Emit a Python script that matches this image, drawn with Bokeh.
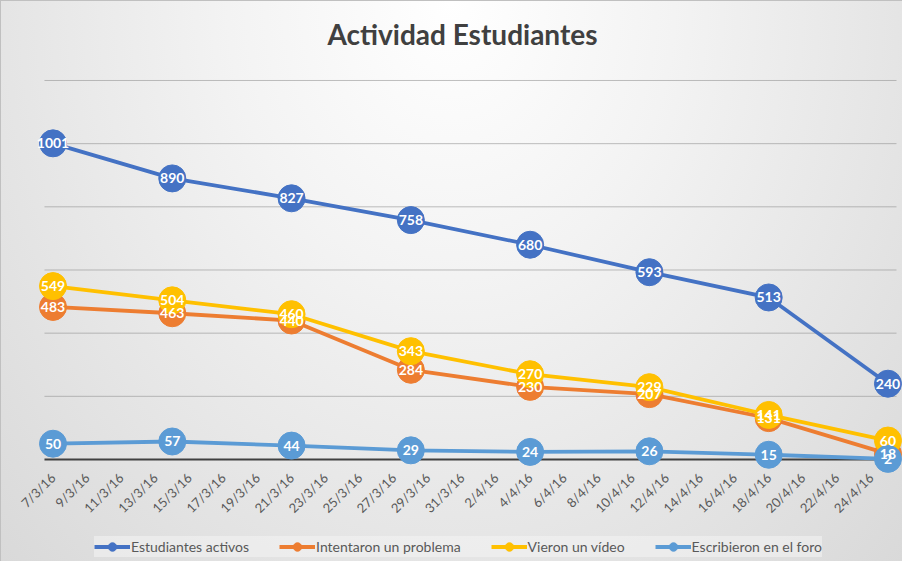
import math
import pandas as pd
from bokeh.plotting import figure
from bokeh.models import ColumnDataSource, Range1d, Legend, LegendItem
from bokeh.core.properties import value
from bokeh.embed import file_html
from bokeh.resources import INLINE

# ---- data ----
dates = ["7/3/16", "14/3/16", "21/3/16", "28/3/16", "4/4/16", "11/4/16", "18/4/16", "25/4/16"]
activos = [1001, 890, 827, 758, 680, 593, 513, 240]
problema = [483, 463, 440, 284, 230, 207, 131, 18]
video = [549, 504, 460, 343, 270, 229, 141, 60]
foro = [50, 57, 44, 29, 24, 26, 15, 2]
series_names = ["Estudiantes activos", "Intentaron un problema", "Vieron un vídeo", "Escribieron en el foro"]
series_colors = ["#4472C4", "#ED7D31", "#FFC000", "#5B9BD5"]
tick_labels = ["7/3/16", "9/3/16", "11/3/16", "13/3/16", "15/3/16", "17/3/16", "19/3/16",
               "21/3/16", "23/3/16", "25/3/16", "27/3/16", "29/3/16", "31/3/16", "2/4/16",
               "4/4/16", "6/4/16", "8/4/16", "10/4/16", "12/4/16", "14/4/16", "16/4/16",
               "18/4/16", "20/4/16", "22/4/16", "24/4/16"]
y_grid = [200, 400, 600, 800, 1000, 1200]
y_zero = [0]
title_text = "Actividad Estudiantes"

FONT = "Lato"
origin = pd.to_datetime(dates[0], format="%d/%m/%y")
def to_days(lst):
    return [int((pd.to_datetime(d, format="%d/%m/%y") - origin).days) for d in lst]

x_days = to_days(dates)
tick_days = to_days(tick_labels)
x_lo, x_hi = x_days[0] - 0.5, x_days[-1] + 0.5   # plot-area extent (half a day padding)
LABEL_Y = -50                                      # where the rotated date labels hang
TITLE_X, TITLE_Y = 24.03, 1348                     # title placement

p = figure(frame_width=901, frame_height=560, output_backend="svg", toolbar_location=None,
           x_range=Range1d(-3.0223, 49.853), y_range=Range1d(-322.96, 1450.1),
           min_border_left=0, min_border_right=0, min_border_top=0, min_border_bottom=0)
p.styles = {"background": "radial-gradient(ellipse farthest-corner at 50% 0%, #ffffff 0%, #f3f3f3 35%, #d9d9d9 100%)",
            "border-left": "1px solid #c0c0c0", "border-top": "1px solid #c0c0c0",
            "box-sizing": "border-box"}
p.border_fill_color = None
p.background_fill_color = None
p.outline_line_color = None
p.xaxis.visible = False
p.yaxis.visible = False
p.ygrid.visible = False
p.xgrid.visible = False

# title
p.text(x=[TITLE_X], y=[TITLE_Y], text=[title_text], text_align="center", text_baseline="middle",
       text_font=value(FONT), text_font_size="28px", text_font_style="bold", text_color="#404040")

# horizontal gridlines and zero line limited to the plot area
p.segment(x0=[x_lo] * len(y_grid), x1=[x_hi] * len(y_grid), y0=y_grid, y1=y_grid,
          line_color="#8c8c8c", line_alpha=0.55, line_width=1, level="underlay")
p.segment(x0=[x_lo], x1=[x_hi], y0=y_zero, y1=y_zero,
          line_color="#404040", line_width=2, level="underlay")

# rotated date tick labels
p.text(x=tick_days, y=[LABEL_Y] * len(tick_days), text=tick_labels, angle=math.pi / 4,
       text_align="right", text_baseline="middle", text_font=value(FONT),
       text_font_size="13px", text_color="#595959")

all_vals = [activos, problema, video, foro]
items = []
sources = []
for name, vals, col in zip(series_names, all_vals, series_colors):
    src = ColumnDataSource(dict(x=x_days, y=vals, label=[str(v) for v in vals]))
    sources.append(src)
    ln = p.line("x", "y", source=src, line_color=col, line_width=3.8)
    sc = p.scatter("x", "y", source=src, size=27, fill_color=col, line_color=col)
    items.append(LegendItem(label=name, renderers=[ln, sc]))

for src in sources:
    p.text("x", "y", text="label", source=src, text_color="white", text_font=value(FONT),
           text_font_style="bold", text_font_size="14px", text_align="center",
           text_baseline="middle")

legend = Legend(items=items, orientation="horizontal", location=(93, 4),
                label_text_font=FONT, label_text_font_size="14px", label_text_color="#595959",
                glyph_width=36, glyph_height=21, spacing=30, label_standoff=1,
                background_fill_color="#f4f4f4", background_fill_alpha=0.55,
                border_line_color=None, padding=5, margin=0)
p.add_layout(legend)

open("out.html", "w").write(file_html(p, INLINE))
